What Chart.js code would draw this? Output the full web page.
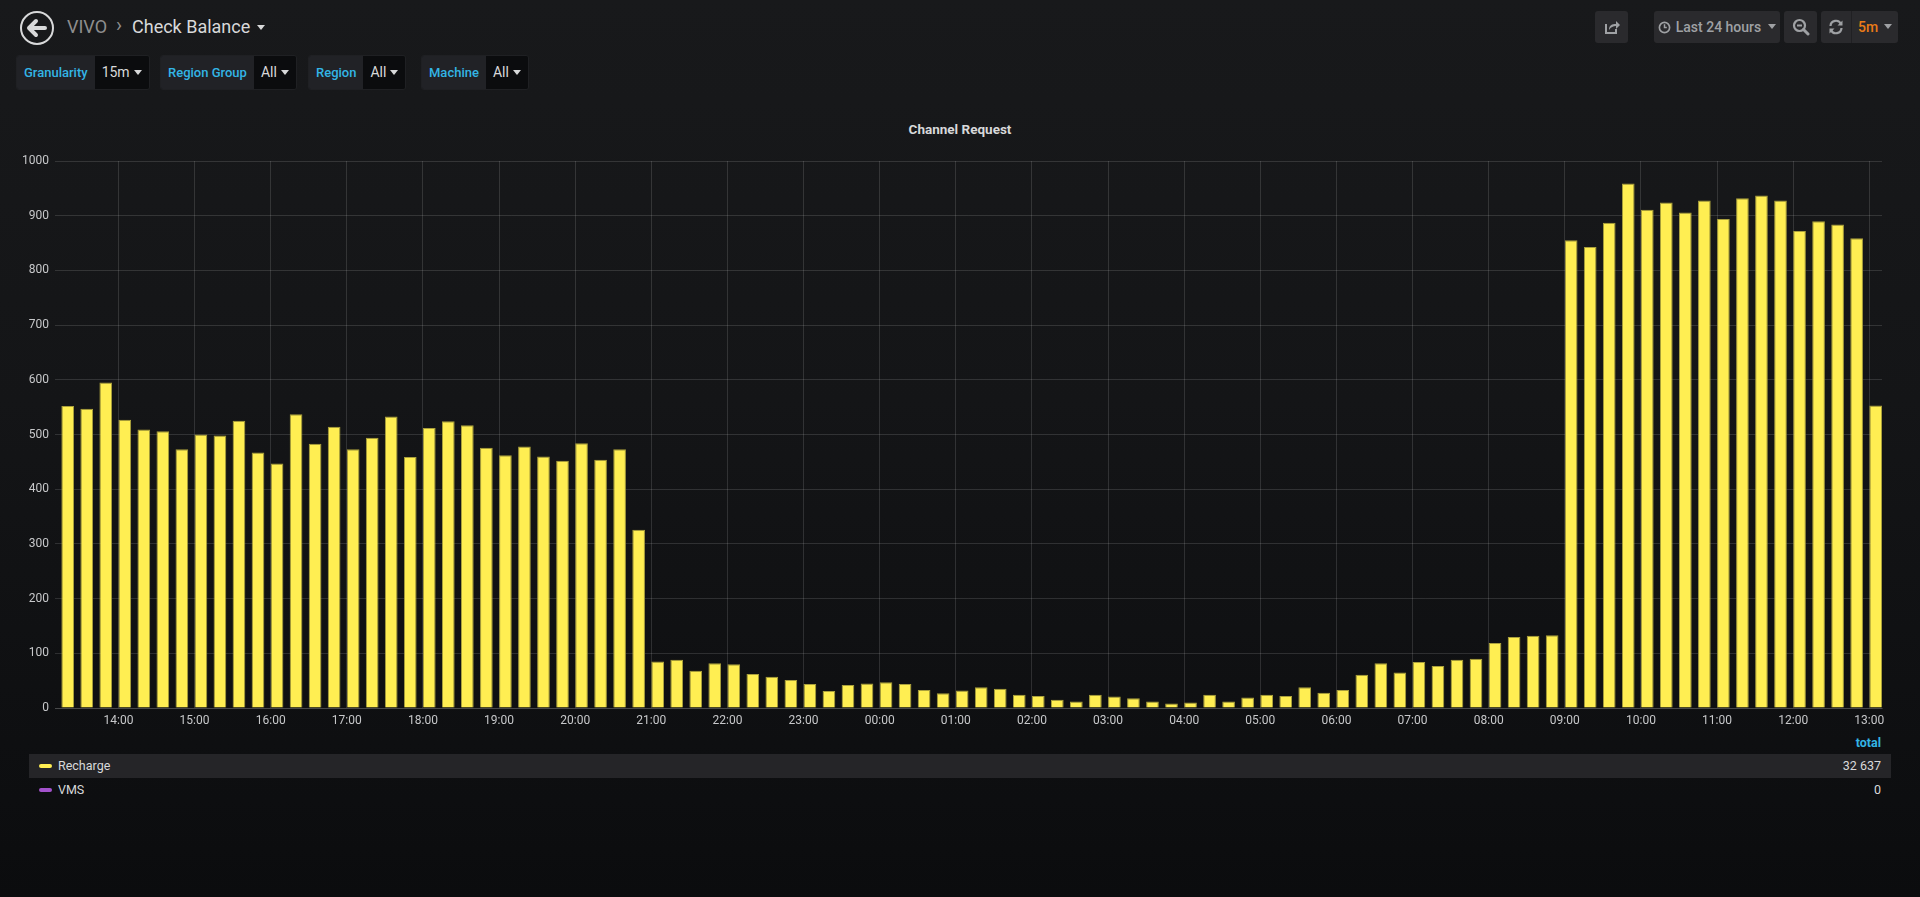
<!DOCTYPE html>
<html>
<head>
<meta charset="utf-8">
<script src="https://cdn.jsdelivr.net/npm/chart.js@4.4.1/dist/chart.umd.min.js"></script>
<style>
  html, body { margin: 0; padding: 0; }
  body {
    width: 1920px; height: 897px; overflow: hidden; position: relative;
    font-family: Roboto, "Noto Sans", sans-serif;
    background: linear-gradient(to bottom, #18191b 0px, #141517 400px, #0d0e10 800px, #0b0c0e 897px);
    color: #d8d9da;
  }
  .abs { position: absolute; }
  .crumb { top: 14px; font-size: 18px; line-height: 26px; white-space: nowrap; }
  .var { top: 55px; height: 33px; display: flex; border: 1px solid #1f2023; border-radius: 3px; overflow: hidden; }
  .var .lbl { background: #212226; color: #33b5e5; font-size: 13px; font-weight: 500; padding: 0 7px; line-height: 33px; }
  .var .val { background: #0b0c0e; color: #d8d9da; font-size: 14px; padding: 0 7px; line-height: 33px; white-space: nowrap; }
  .caret { display: inline-block; width: 0; height: 0; border-left: 4px solid transparent; border-right: 4px solid transparent; border-top: 5px solid #d8d9da; vertical-align: middle; margin-left: 4px; margin-top: -2px; }
  .btn { top: 11px; height: 32px; background: #2a2a2d; border-radius: 3px; color: #9fa1a4; font-size: 14px; font-weight: 500; line-height: 32px; display: flex; align-items: center; justify-content: center; }
  .legend-row { left: 29px; width: 1862px; height: 24px; line-height: 24px; font-size: 12.5px; }
  .legend-row .dash { position: absolute; left: 10px; top: 10px; width: 13px; height: 4px; border-radius: 2px; }
  .legend-row .name { position: absolute; left: 29px; color: #d8d9da; }
  .legend-row .num { position: absolute; right: 10px; color: #d8d9da; }
</style>
</head>
<body>

<!-- top bar -->
<svg class="abs" style="left:19px;top:10px" width="36" height="36" viewBox="0 0 36 36">
  <circle cx="18" cy="18" r="16" fill="none" stroke="#d8d9da" stroke-width="2"/>
  <path d="M10 18 L17 11 M10 18 L17 25 M10 18 L26 18" stroke="#d8d9da" stroke-width="4" stroke-linecap="round" fill="none"/>
</svg>
<div class="abs crumb" style="left:67px;color:#8e8e8e">VIVO</div>
<div class="abs crumb" style="left:116px;color:#8e8e8e;font-size:20px;top:12px">&#x203A;</div>
<div class="abs crumb" style="left:132px;color:#d8d9da">Check Balance <span class="caret" style="border-width:5px 4px 0 4px;margin-left:2px"></span></div>

<div class="abs var" style="left:16px"><div class="lbl">Granularity</div><div class="val">15m<span class="caret"></span></div></div>
<div class="abs var" style="left:160px"><div class="lbl">Region Group</div><div class="val">All<span class="caret"></span></div></div>
<div class="abs var" style="left:308px"><div class="lbl">Region</div><div class="val">All<span class="caret"></span></div></div>
<div class="abs var" style="left:421px"><div class="lbl">Machine</div><div class="val">All<span class="caret"></span></div></div>

<div class="abs btn" style="left:1595px;width:33px">
  <svg width="16" height="16" viewBox="0 0 16 16"><path d="M2 5 V14 H12 V10" stroke="#9fa1a4" stroke-width="2" fill="none"/><path d="M5 11 C5 6 8 5 12 5 V2 L16 6 L12 10 V7 C9 7 7 8 5 11 Z" fill="#9fa1a4"/></svg>
</div>
<div class="abs btn" style="left:1654px;width:126px">
  <svg width="13" height="13" viewBox="0 0 14 14" style="margin-right:5px"><circle cx="7" cy="7" r="5.5" stroke="#9fa1a4" stroke-width="1.8" fill="none"/><path d="M7 3.5 V7 H9.5" stroke="#9fa1a4" stroke-width="1.6" fill="none"/></svg>
  Last 24 hours<span class="caret" style="border-top-color:#9fa1a4;margin-left:7px"></span>
</div>
<div class="abs btn" style="left:1784px;width:33px">
  <svg width="18" height="18" viewBox="0 0 18 18"><circle cx="7.5" cy="7.5" r="5.5" stroke="#9fa1a4" stroke-width="2.2" fill="none"/><path d="M5 7.5 H10" stroke="#9fa1a4" stroke-width="2"/><path d="M11.5 11.5 L16 16" stroke="#9fa1a4" stroke-width="3" stroke-linecap="round"/></svg>
</div>
<div class="abs btn" style="left:1821px;width:77px;justify-content:flex-start">
  <div style="width:30px;display:flex;justify-content:center;border-right:1px solid #202023;height:32px;align-items:center">
    <svg width="16" height="16" viewBox="0 0 16 16"><path d="M2.5 7 A5.5 5.5 0 0 1 13 5" stroke="#9fa1a4" stroke-width="2.2" fill="none"/><path d="M14.5 1.5 V6.5 H9.5 Z" fill="#9fa1a4"/><path d="M13.5 9 A5.5 5.5 0 0 1 3 11" stroke="#9fa1a4" stroke-width="2.2" fill="none"/><path d="M1.5 14.5 V9.5 H6.5 Z" fill="#9fa1a4"/></svg>
  </div>
  <span style="color:#eb7b18;margin-left:6px">5m</span><span class="caret" style="border-top-color:#9fa1a4;margin-left:6px"></span>
</div>

<!-- panel -->
<div class="abs" style="left:0;width:1920px;top:120px;text-align:center;font-size:13.5px;font-weight:bold;color:#d8d9da;line-height:18px">Channel Request</div>
<canvas id="chart" class="abs" style="left:0;top:110px" width="1920" height="622"></canvas>
<div id="legend"></div>

<script>
// time window shown by the panel ("Last 24 hours", now = 13:10), in minutes from 00:00 of day one
const windowStart = 13 * 60 + 10;
const windowEnd = windowStart + 24 * 60;
const firstBucket = 13 * 60 + 15;   // 13:15
const bucketMinutes = 15;           // granularity 15m
const barMinutes = 10;              // drawn bar width

const hourLabels = ['14:00', '15:00', '16:00', '17:00', '18:00', '19:00', '20:00', '21:00',
    '22:00', '23:00', '00:00', '01:00', '02:00', '03:00', '04:00', '05:00', '06:00',
    '07:00', '08:00', '09:00', '10:00', '11:00', '12:00', '13:00'];

const seriesNames = ['Recharge', 'VMS'];
const seriesColors = ['#ffee52', '#a352cc'];

// 13:15 .. 13:00 next day, every 15 minutes
const recharge = [
    552, 547, 595, 527, 509, 506, 473, 500, 498, 525,
    467, 447, 537, 483, 514, 473, 494, 533, 459, 512,
    524, 517, 476, 462, 478, 460, 452, 484, 454, 473,
    326,
    85, 88, 68, 82, 80, 62, 57, 51,
    44, 31, 42, 45, 47, 44, 33, 27,
    32, 38, 35, 24, 22, 15, 12, 24,
    21, 18, 12, 8, 10, 24, 12, 19,
    24, 22, 38, 28, 33, 61, 82, 65,
    84, 77, 88, 90, 119, 130, 132, 133,
    855, 843, 887, 959, 911, 924, 906, 928,
    894, 932, 937, 928, 872, 890, 884, 859,
    553
];
const vms = [];   // no data in this window

const yTicks = [0, 100, 200, 300, 400, 500, 600, 700, 800, 900, 1000];

// hour label -> minutes inside the window
const hourValue = label => {
    let m = parseInt(label.slice(0, 2), 10) * 60;
    if (m < windowStart) m += 24 * 60;
    return m;
};

const toPoints = arr => arr.map((v, i) => ({
    x: firstBucket + i * bucketMinutes + barMinutes / 2,
    y: v
}));

const gridColor = 'rgba(255, 255, 255, 0.13)';

const ctx = document.getElementById('chart').getContext('2d');
const chart = new Chart(ctx, {
    type: 'bar',
    data: {
        datasets: [
            {
                label: seriesNames[0],
                data: toPoints(recharge),
                backgroundColor: seriesColors[0],
                borderColor: 'rgba(170, 160, 60, 1)',
                borderWidth: 1,
                barPercentage: barMinutes / bucketMinutes,
                categoryPercentage: 1,
                grouped: false
            },
            {
                label: seriesNames[1],
                data: toPoints(vms),
                backgroundColor: seriesColors[1],
                borderWidth: 0,
                barPercentage: barMinutes / bucketMinutes,
                categoryPercentage: 1,
                grouped: false
            }
        ]
    },
    options: {
        responsive: false,
        animation: false,
        devicePixelRatio: 1,
        layout: {
            padding: { left: 0, right: 38, top: 51, bottom: 0 }
        },
        scales: {
            x: {
                type: 'linear',
                min: windowStart,
                max: windowEnd,
                offset: false,
                afterBuildTicks: axis => {
                    axis.ticks = hourLabels.map(l => ({ value: hourValue(l) }));
                },
                afterFit: axis => { axis.height = 24; },
                ticks: {
                    color: '#c7c8ca',
                    font: { family: 'Roboto', size: 12 },
                    padding: 6,
                    maxRotation: 0,
                    autoSkip: false,
                    callback: value => hourLabels.find(l => hourValue(l) === value) || ''
                },
                grid: {
                    color: gridColor,
                    offset: false,
                    drawTicks: false
                },
                border: { color: gridColor }
            },
            y: {
                min: 0,
                max: 1000,
                afterBuildTicks: axis => {
                    axis.ticks = yTicks.map(v => ({ value: v }));
                },
                afterFit: axis => { axis.width = 55; },
                ticks: {
                    color: '#c7c8ca',
                    font: { family: 'Roboto', size: 12 },
                    padding: 6,
                    callback: value => String(value)
                },
                grid: {
                    color: gridColor,
                    drawTicks: false
                },
                border: { display: false }
            }
        },
        plugins: {
            legend: { display: false },
            tooltip: { enabled: false },
            title: { display: false }
        }
    }
});

// grafana style table legend with totals
const fmt = n => String(n).replace(/\B(?=(\d{3})+(?!\d))/g, ' ');
const totals = [recharge, vms].map(a => a.reduce((s, v) => s + v, 0));
const legend = document.getElementById('legend');
let html = '<div class="abs" style="right:39px;top:734px;font-size:12.5px;font-weight:bold;color:#33b5e5;line-height:18px">total</div>';
seriesNames.forEach((name, i) => {
    const top = 754 + i * 24;
    const bg = i === 0 ? 'background:#252528;' : '';
    html += '<div class="abs legend-row" style="top:' + top + 'px;' + bg + '">' +
        '<span class="dash" style="background:' + seriesColors[i] + '"></span>' +
        '<span class="name">' + name + '</span>' +
        '<span class="num">' + fmt(totals[i]) + '</span></div>';
});
legend.innerHTML = html;
</script>
</body>
</html>
